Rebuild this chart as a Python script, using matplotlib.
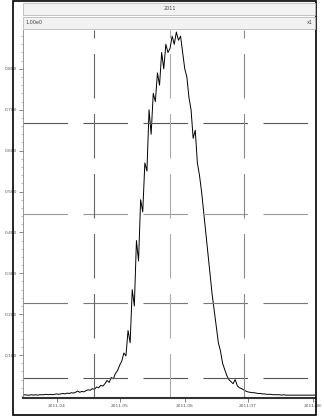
import numpy as np
import pandas as pd
import matplotlib
matplotlib.use("Agg")
import matplotlib.pyplot as plt
from matplotlib.patches import Rectangle

# daily values, 2011-03-16 .. 2011-08-02
dates = pd.date_range("2011-03-16", periods=140, freq="D")
values = [
    0.002, 0.003, 0.002, 0.002, 0.003, 0.002, 0.003, 0.002, 0.003, 0.003,
    0.003, 0.004, 0.003, 0.004, 0.003, 0.004, 0.005, 0.004, 0.005, 0.006,
    0.005, 0.007, 0.006, 0.008, 0.007, 0.009, 0.012, 0.009, 0.011, 0.010,
    0.013, 0.015, 0.014, 0.018, 0.016, 0.022, 0.020, 0.026, 0.024, 0.030,
    0.038, 0.033, 0.045, 0.042, 0.055, 0.062, 0.075, 0.085, 0.105, 0.098,
    0.16, 0.13, 0.26, 0.22, 0.38, 0.33, 0.48, 0.45, 0.57, 0.55,
    0.70, 0.64, 0.74, 0.72, 0.79, 0.76, 0.84, 0.80, 0.86, 0.84,
    0.85, 0.88, 0.86, 0.89, 0.87, 0.88, 0.84, 0.80, 0.78, 0.73,
    0.70, 0.63, 0.65, 0.57, 0.54, 0.50, 0.45, 0.40, 0.35, 0.30,
    0.25, 0.21, 0.17, 0.13, 0.11, 0.08, 0.065, 0.05, 0.04, 0.035,
    0.03, 0.04, 0.025, 0.02, 0.018, 0.015, 0.012, 0.010, 0.009, 0.008,
    0.008, 0.007, 0.006, 0.006, 0.005, 0.005, 0.004, 0.004, 0.004, 0.003,
    0.003, 0.003, 0.003, 0.002, 0.003, 0.002, 0.002, 0.002, 0.002, 0.002,
    0.002, 0.002, 0.002, 0.002, 0.002, 0.002, 0.002, 0.002, 0.002, 0.002,
]

title = "2011"
scale_left = "1.00e0"
scale_right = "x1"
yticks = [0.1, 0.2, 0.3, 0.4, 0.5, 0.6, 0.7, 0.8]
xtick_dates = ["2011-04-01", "2011-05-01", "2011-06-01", "2011-07-01", "2011-08-01"]
xtick_labels = ["2011.04", "2011.05", "2011.06", "2011.07", "2011.08"]
grid_x = ["2011-04-19", "2011-05-25", "2011-06-29"]
grid_y = [0.668, 0.446, 0.227, 0.044]
grid_y_col = ["#555555", "#999999", "#777777", "#555555"]
grid_x_col = ["#666666", "#aaaaaa", "#888888"]

W, H = 324, 417
fig = plt.figure(figsize=(W / 100, H / 100), dpi=100)

def fx(px):
    return px / W

def fy(py):
    return 1 - py / H

# outer frame
fig.patches.append(Rectangle((fx(13), fy(415)), fx(316) - fx(13), fy(1) - fy(415),
                             transform=fig.transFigure, fill=False, ec="black", lw=1.2))
# header bars
for top, bot in [(3, 15), (17, 29)]:
    fig.patches.append(Rectangle((fx(23), fy(bot)), fx(315) - fx(23), fy(top) - fy(bot),
                                 transform=fig.transFigure, fc="#f2f2f2", ec="#bbbbbb", lw=0.6))
fig.text(fx(170), fy(9), title, fontsize=3.5, ha="center", va="center", color="#444444")
fig.text(fx(25), fy(23), scale_left, fontsize=3.5, ha="left", va="center", color="#444444")
fig.text(fx(313), fy(23), scale_right, fontsize=3.5, ha="right", va="center", color="#444444")

ax = fig.add_axes([fx(23), fy(398), fx(315) - fx(23), fy(30) - fy(398)])
ax.plot(dates, values, color="black", lw=0.7)

for g, c in zip(grid_y, grid_y_col):
    ax.axhline(g, color=c, lw=0.8, dashes=(40, 14))
for g, c in zip(grid_x, grid_x_col):
    ax.axvline(pd.Timestamp(g), color=c, lw=0.8, dashes=(40, 14))

ax.set_xlim(pd.Timestamp("2011-03-16"), pd.Timestamp("2011-08-02"))
ax.set_ylim(-0.005, 0.895)
ax.set_yticks(yticks)
ax.set_yticklabels(["%.3f" % v for v in yticks])
ax.yaxis.set_minor_locator(plt.MultipleLocator(0.02))
ax.set_xticks([pd.Timestamp(d) for d in xtick_dates])
ax.set_xticklabels(xtick_labels)
ax.tick_params(labelsize=3.2, length=3, width=0.5, pad=1, colors="#555555")
ax.tick_params(which="minor", length=1.5, width=0.4, colors="#888888")
for s in ["top", "right"]:
    ax.spines[s].set_visible(False)
ax.spines["left"].set_color("#888888")
ax.spines["left"].set_linewidth(0.6)
ax.spines["bottom"].set_color("#333333")
ax.spines["bottom"].set_linewidth(1.5)

fig.savefig("out.png", dpi=100)
